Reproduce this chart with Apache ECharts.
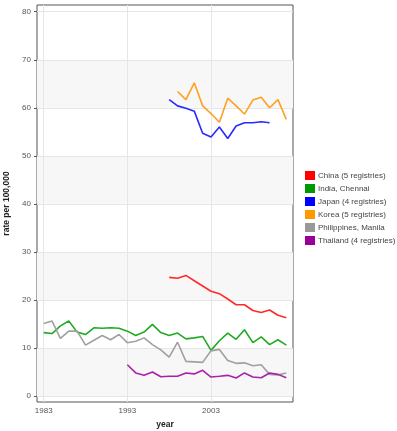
<!DOCTYPE html>
<html><head><meta charset="utf-8">
<script src="https://cdn.jsdelivr.net/npm/echarts@6/dist/echarts.min.js"></script>
<style>html,body{margin:0;padding:0;background:#fff}#c{width:397px;height:431px}</style>
</head><body><div id="c"></div>
<script>
// ---- data ----
const seriesNames = ["China (5 registries)", "India, Chennai", "Japan (4 registries)", "Korea (5 registries)", "Philippines, Manila", "Thailand (4 registries)"];
const seriesColors = ["#ff2a2a", "#22aa22", "#2a2aff", "#ffa022", "#a0a0a0", "#aa22aa"];
const legendColors = ["#ff0000", "#009900", "#0000ff", "#ff9900", "#999999", "#990099"];
const startYears = [1998, 1983, 1998, 1999, 1983, 1993];
const chinaValues = [24.7, 24.5, 25.1, 24.0, 22.9, 21.8, 21.3, 20.2, 19.0, 19.0, 17.8, 17.4, 17.9, 16.8, 16.3];
const indiaValues = [13.2, 13.0, 14.6, 15.6, 13.3, 12.8, 14.2, 14.1, 14.2, 14.1, 13.5, 12.6, 13.3, 14.9, 13.2, 12.6, 13.1, 11.9, 12.1, 12.4, 9.5, 11.5, 13.1, 11.8, 13.8, 11.1, 12.3, 10.7, 11.7, 10.6];
const japanValues = [61.7, 60.4, 59.9, 59.3, 54.7, 53.9, 56.0, 53.6, 56.2, 56.9, 56.9, 57.1, 56.9];
const koreaValues = [63.4, 61.7, 65.2, 60.4, 58.8, 57.0, 62.0, 60.4, 58.7, 61.6, 62.2, 60.0, 61.7, 57.6];
const philippinesValues = [15.1, 15.6, 12.0, 13.5, 13.5, 10.6, 11.6, 12.6, 11.7, 12.8, 11.1, 11.4, 12.1, 10.7, 9.6, 8.1, 11.2, 7.2, 7.1, 7.0, 9.4, 9.7, 7.4, 6.8, 6.9, 6.3, 6.5, 4.5, 4.4, 4.8];
const thailandValues = [6.5, 4.8, 4.3, 5.0, 4.0, 4.1, 4.1, 4.8, 4.6, 5.35, 3.95, 4.1, 4.3, 3.75, 4.8, 3.95, 3.8, 4.8, 4.5, 3.8];
const allValues = [chinaValues, indiaValues, japanValues, koreaValues, philippinesValues, thailandValues];
const xTicks = [1983, 1993, 2003];
const yTicks = [0, 10, 20, 30, 40, 50, 60, 70, 80];
const bands = [[0, 10], [20, 30], [40, 50], [60, 70]];

const chart = echarts.init(document.getElementById('c'));
const series = allValues.map((vals, i) => ({
  name: seriesNames[i],
  type: 'line',
  data: vals.map((v, j) => [startYears[i] + j, v]),
  showSymbol: false,
  symbol: 'none',
  color: legendColors[i],
  lineStyle: { color: seriesColors[i], width: 1.6 },
  itemStyle: { color: legendColors[i] },
  emphasis: { disabled: true },
  z: 5
}));
// background bands and gridlines
series.unshift({
  type: 'line', data: [], silent: true, z: 1,
  markArea: { silent: true, itemStyle: { color: '#f7f7f7' },
    data: bands.map(b => [{ yAxis: b[0] }, { yAxis: b[1] }]) },
  markLine: { silent: true, symbol: 'none', label: { show: false },
    lineStyle: { color: '#e6e6e6', width: 1, type: 'solid' },
    data: yTicks.map(v => ({ yAxis: v })).concat(xTicks.map(v => ({ xAxis: v }))) }
});

const font = 'Liberation Sans, Arial, sans-serif';
chart.setOption({
  animation: false,
  grid: { left: 37, right: 104, top: 5, bottom: 29, outerBoundsMode: 'none', containLabel: false,
    show: true, borderColor: '#555', borderWidth: 1, backgroundColor: '#fff' },
  legend: {
    data: seriesNames, orient: 'vertical', left: 300, top: 166,
    icon: 'rect', itemWidth: 10, itemHeight: 9, itemGap: 4,
    textStyle: { fontSize: 8, color: '#444', fontFamily: font, padding: [0, 0, 0, -2] },
    selectedMode: false
  },
  xAxis: {
    type: 'value', min: 1982.2, max: 2012.8, name: 'year', nameLocation: 'middle', nameGap: 18,
    nameMoveOverlap: false,
    nameTextStyle: { fontSize: 8.5, fontWeight: 'bold', color: '#222', fontFamily: font },
    axisLine: { show: false },
    axisTick: { show: true, length: 3, lineStyle: { color: '#555' }, customValues: xTicks },
    axisLabel: { fontSize: 8, color: '#555', margin: 5, fontFamily: font, customValues: xTicks, formatter: v => String(v) },
    splitLine: { show: false }
  },
  yAxis: {
    type: 'value', min: -1.25, max: 81.4, name: 'rate per 100,000', nameLocation: 'middle', nameGap: 26,
    nameMoveOverlap: false,
    nameTextStyle: { fontSize: 8.5, fontWeight: 'bold', color: '#222', fontFamily: font },
    axisLine: { show: false },
    axisTick: { show: true, length: 3, lineStyle: { color: '#555' }, customValues: yTicks },
    axisLabel: { fontSize: 8, color: '#555', margin: 6, fontFamily: font, customValues: yTicks },
    splitLine: { show: false }
  },
  series: series
});
</script></body></html>
